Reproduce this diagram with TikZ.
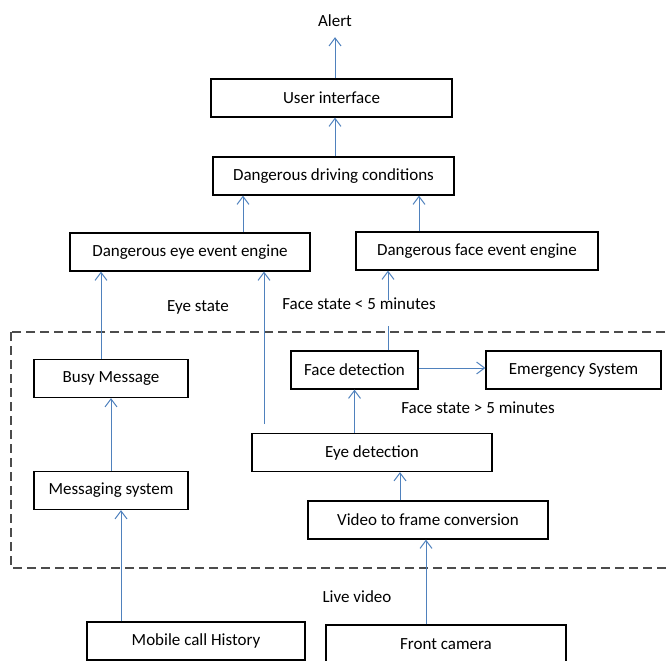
\documentclass[tikz,border=0pt]{standalone}
\usepackage{fontspec}
\setmainfont{Carlito}
\usetikzlibrary{arrows.meta,calc}
\definecolor{flowblue}{RGB}{79,129,189}

\begin{document}
\begin{tikzpicture}[x=1pt,y=-1pt,
  box/.style={draw=black,line width=1.2pt,minimum height=38pt,inner sep=0pt,font=\fontsize{17}{20}\selectfont},
  lbl/.style={inner sep=1pt,font=\fontsize{17}{20}\selectfont},
  arr/.style={flowblue,line width=1pt,-{Straight Barb[length=8pt,width=12pt]}},
  link/.style={flowblue,line width=1pt}]
  \useasboundingbox (0,0) rectangle (667,661);
  \clip (0,0) rectangle (667,661);
  % boxes
  \node[lbl] (alert) at (335,21) {Alert};
  \node[box,minimum width=241pt] (ui) at (331.5,98) {User interface};
  \node[box,minimum width=241pt] (ddc) at (333.5,176) {Dangerous driving conditions};
  \node[box,minimum width=240pt] (deee) at (190,252) {Dangerous eye event engine};
  \node[box,minimum width=242pt] (dfee) at (477,251) {Dangerous face event engine};
  \node[box,minimum width=154pt] (busy) at (111,378.5) {Busy Message};
  \node[box,minimum width=127pt] (face) at (354.5,370) {Face detection};
  \node[box,minimum width=175pt] (emer) at (573.5,370) {Emergency System};
  \node[box,minimum width=240pt] (eye) at (372,452.5) {Eye detection};
  \node[box,minimum width=154pt] (msg) at (111,490.5) {Messaging system};
  \node[box,minimum width=240pt] (vtf) at (428,520) {Video to frame conversion};
  \node[box,minimum width=218pt] (mch) at (196,641) {Mobile call History};
  \node[box,minimum width=240pt] (fc) at (446,644) {Front camera};
  % labels
  \node[lbl] (eyestate) at (198,307) {Eye state};
  \node[lbl] (facelow) at (359,304) {Face state < 5 minutes};
  \node[lbl] (facehigh) at (478,408) {Face state > 5 minutes};
  \node[lbl] (live) at (357,597) {Live video};
  % dashed region
  \draw[dash pattern=on 9pt off 5pt,line width=1.1pt,black!70] (11,332) rectangle (690,568);
  % connectors
  \draw[arr] (ui.north -| alert) -- ([yshift=-9pt]alert.south);
  \draw[arr] (ddc.north -| alert) -- (ui.south -| alert);
  \draw[arr] ([xshift=53pt]deee.north) -- ([xshift=53pt]deee.north |- ddc.south);
  \draw[arr] ([xshift=-58pt]dfee.north) -- ([xshift=-58pt]dfee.north |- ddc.south);
  \draw[arr] ([xshift=-10pt]busy.north) -- ([xshift=-10pt]busy.north |- deee.south);
  \coordinate (eyeout) at (264,424);
  \draw[arr] (eyeout) -- (eyeout |- deee.south);
  \coordinate (facetop) at (388,326);
  \draw[link] (facetop |- face.north) -- (facetop);
  \coordinate (facein) at (388,300);
  \draw[arr] (facein) -- (facein |- dfee.south);
  \draw[arr] (face.east |- 0,368) -- (emer.west |- 0,368);
  \draw[arr] (eye.north -| face) -- (face.south);
  \draw[arr] (msg.north) -- (busy.south);
  \draw[arr] ([xshift=-28pt]vtf.north) -- ([xshift=-28pt]vtf.north |- eye.south);
  \draw[arr] ([xshift=-75pt]mch.north) -- ([xshift=-75pt]mch.north |- msg.south);
  \draw[arr] ([xshift=-20pt]fc.north) -- ([xshift=-20pt]fc.north |- vtf.south);
\end{tikzpicture}
\end{document}
